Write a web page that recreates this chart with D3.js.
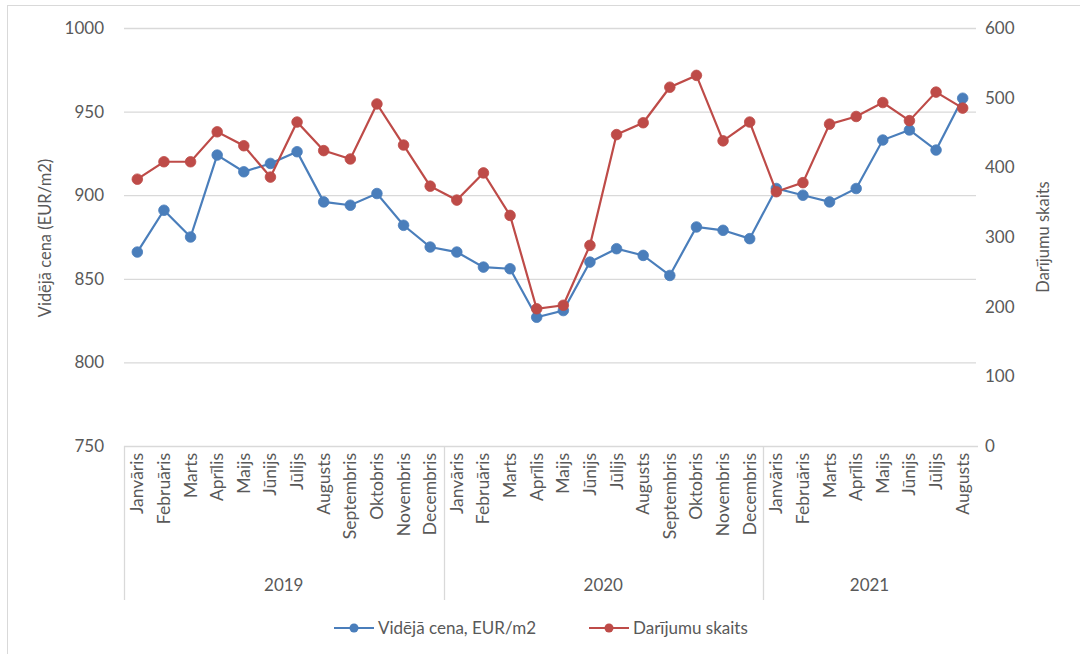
<!DOCTYPE html>
<html><head><meta charset="utf-8">
<script src="https://cdn.jsdelivr.net/npm/d3@7"></script>
<style>
html,body{margin:0;padding:0;background:#fff;}
svg text{font-family:Lato,"Open Sans",sans-serif;fill:#595959;}
</style></head>
<body><svg id="c" width="1080" height="654"></svg>
<script>
const years = ["2019","2020","2021"];
const monthsPerYear = [12,12,8];
const monthNames = ["Janvāris","Februāris","Marts","Aprīlis","Maijs","Jūnijs","Jūlijs","Augusts","Septembris","Oktobris","Novembris","Decembris"];
const priceValues = [866,891,875,924,914,919,926,896,894,901,882,869,
                     866,857,856,827,831,860,868,864,852,881,879,874,
                     904,900,896,904,933,939,927,958];
const dealValues = [383,408,408,451,431,386,465,424,412,491,432,373,
                    353,392,331,197,202,288,447,464,515,532,438,465,
                    365,378,462,473,493,467,508,485];
const leftTicks = [750,800,850,900,950,1000];
const rightTicks = [0,100,200,300,400,500,600];
const seriesNames = ["Vidējā cena, EUR/m2","Darījumu skaits"];
const leftTitle = "Vidējā cena (EUR/m2)";
const rightTitle = "Darījumu skaits";

const cats = [];
years.forEach((y,i)=>{ for(let m=0;m<monthsPerYear[i];m++) cats.push({key:y+"-"+m, year:y, month:monthNames[m]}); });

const svg = d3.select("#c");
const L=124, R=976, T=28, B=446;
const blue="#4a7ebb", red="#be4b48", grid="#d9d9d9";

// border
svg.append("rect").attr("x",7.5).attr("y",5.5).attr("width",1090).attr("height",700)
  .attr("fill","none").attr("stroke","#d9d9d9");

const x = d3.scaleBand().domain(cats.map(d=>d.key)).range([L,R]).padding(0);
const yL = d3.scaleLinear().domain([750,1000]).range([B,T]);
const yR = d3.scaleLinear().domain([0,600]).range([B,T]);

// gridlines
svg.append("g").selectAll("line").data(leftTicks.slice(1)).join("line")
  .attr("x1",L).attr("x2",R).attr("y1",d=>yL(d)+0.5).attr("y2",d=>yL(d)+0.5)
  .attr("stroke",grid).attr("stroke-width",1.3);

// left axis
const axL = svg.append("g").attr("transform",`translate(${L},0)`)
  .call(d3.axisLeft(yL).tickValues(leftTicks).tickFormat(d3.format("d")).tickSize(0).tickPadding(20));
axL.select(".domain").remove();
axL.selectAll("text").attr("font-size",17).style("fill","#595959");

// right axis
const axR = svg.append("g").attr("transform",`translate(${R},0)`)
  .call(d3.axisRight(yR).tickValues(rightTicks).tickFormat(d3.format("d")).tickSize(0).tickPadding(9));
axR.select(".domain").remove();
axR.selectAll("text").attr("font-size",17).style("fill","#595959");

// bottom axis line
svg.append("line").attr("x1",L).attr("x2",R+2).attr("y1",B+0.5).attr("y2",B+0.5)
  .attr("stroke",grid).attr("stroke-width",1.3);

// month labels
svg.append("g").selectAll("text").data(cats).join("text")
  .attr("transform",d=>`translate(${x(d.key)+x.bandwidth()/2+6},${B+7}) rotate(-90)`)
  .attr("text-anchor","end").attr("font-size",17.5).text(d=>d.month);

// year separators and labels
let start=0;
const yearBounds = years.map((y,i)=>{ const s=start; start+=monthsPerYear[i]; return {year:y,s:s,e:start}; });
svg.append("g").selectAll("line").data(yearBounds.map(d=>d.s))
  .join("line")
  .attr("x1",d=>Math.round(x(cats[d].key))+0.5).attr("x2",d=>Math.round(x(cats[d].key))+0.5)
  .attr("y1",B).attr("y2",600).attr("stroke",grid).attr("stroke-width",1.3);
svg.append("g").selectAll("text").data(yearBounds).join("text")
  .attr("x",d=>(x(cats[d.s].key)+x(cats[d.e-1].key)+x.bandwidth())/2)
  .attr("y",591).attr("text-anchor","middle").attr("font-size",17).text(d=>d.year);

// axis titles
svg.append("text").attr("transform","translate(51,238) rotate(-90)")
  .attr("text-anchor","middle").attr("font-size",16.5).text(leftTitle);
svg.append("text").attr("transform","translate(1049,237) rotate(-90)")
  .attr("text-anchor","middle").attr("font-size",16.5).text(rightTitle);

// series
const cx = d=>x(d.key)+x.bandwidth()/2;
function drawSeries(vals, scale, color){
  const pts = cats.map((c,i)=>({c:c, v:vals[i]}));
  svg.append("path").datum(pts)
    .attr("d", d3.line().x(d=>cx(d.c)).y(d=>scale(d.v)))
    .attr("fill","none").attr("stroke",color).attr("stroke-width",2.2);
  svg.append("g").selectAll("circle").data(pts).join("circle")
    .attr("cx",d=>cx(d.c)).attr("cy",d=>scale(d.v)).attr("r",5.3)
    .attr("fill",color).attr("stroke",color).attr("stroke-width",0.8);
}
drawSeries(priceValues, yL, blue);
drawSeries(dealValues, yR, red);

// legend
const lg = [{name:seriesNames[0],color:blue,x:334},{name:seriesNames[1],color:red,x:589}];
const lgG = svg.append("g").selectAll("g").data(lg).join("g").attr("transform",d=>`translate(${d.x},628)`);
lgG.append("line").attr("x1",0).attr("x2",40).attr("y1",0).attr("y2",0).attr("stroke",d=>d.color).attr("stroke-width",2.2);
lgG.append("circle").attr("cx",20).attr("cy",0).attr("r",4.5).attr("fill",d=>d.color);
lgG.append("text").attr("x",44).attr("y",6).attr("font-size",17).text(d=>d.name);
</script></body></html>
